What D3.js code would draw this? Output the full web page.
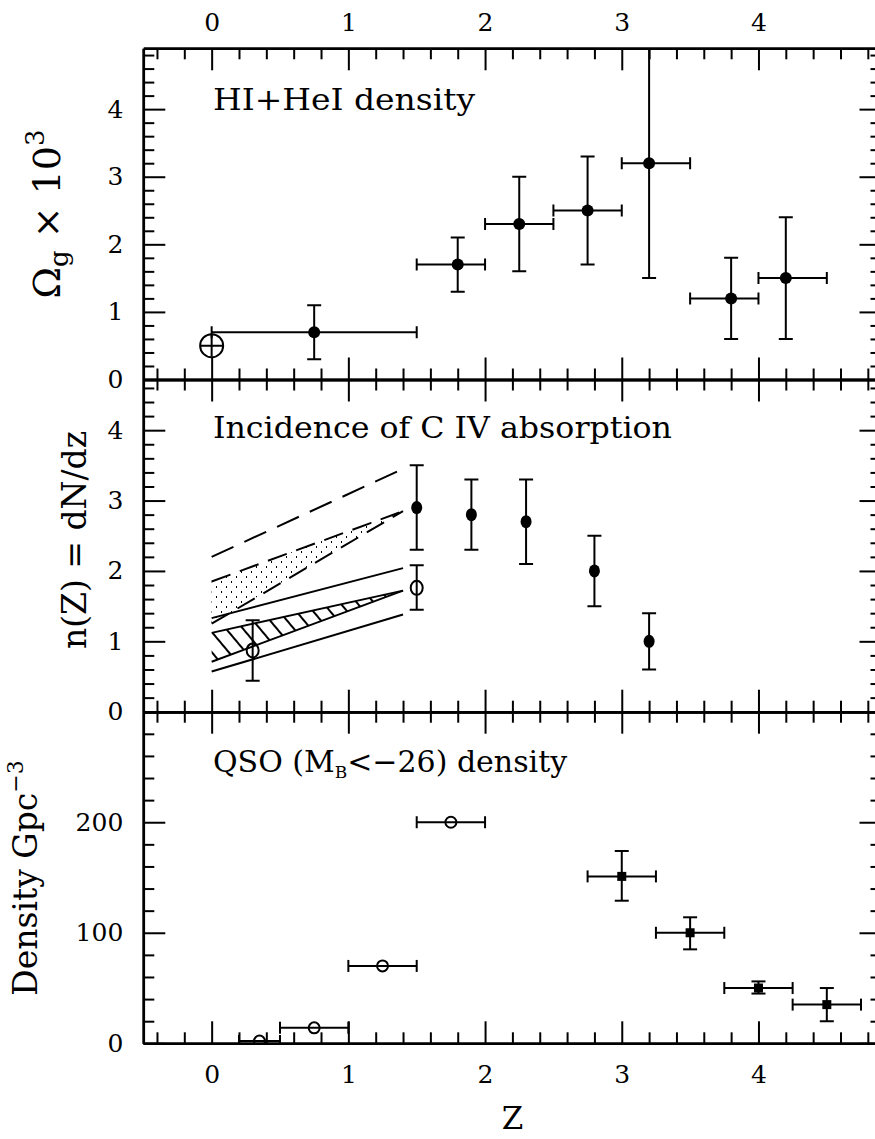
<!DOCTYPE html>
<html>
<head>
<meta charset="utf-8">
<script src="https://cdn.jsdelivr.net/npm/d3@7"></script>
<style>
  body { margin: 0; background: #fff; }
  text { font-family: "DejaVu Serif", serif; fill: #000; }
</style>
</head>
<body>
<svg class="MainSvg"></svg>
<script>
    // ---- top panel : HI+HeI density ----
    var gasZ   = [0.75, 1.8, 2.25, 2.75, 3.2, 3.8, 4.2];
    var gasVal = [0.7, 1.7, 2.3, 2.5, 3.2, 1.2, 1.5];
    var gasLo  = [0.3, 1.3, 1.6, 1.7, 1.5, 0.6, 0.6];
    var gasHi  = [1.1, 2.1, 3.0, 3.3, 4.9, 1.8, 2.4];
    var gasZlo = [0.0, 1.5, 2.0, 2.5, 3.0, 3.5, 4.0];
    var gasZhi = [1.5, 2.0, 2.5, 3.0, 3.5, 4.0, 4.5];
    var localZ = [0], localVal = [0.5], localLo = [0.34], localHi = [0.66], localZlo = [-0.08], localZhi = [0.08];

    // ---- middle panel : C IV incidence ----
    var civZ   = [1.5, 1.9, 2.3, 2.8, 3.2];
    var civVal = [2.9, 2.8, 2.7, 2.0, 1.0];
    var civLo  = [2.3, 2.3, 2.1, 1.5, 0.6];
    var civHi  = [3.5, 3.3, 3.3, 2.5, 1.4];
    var civOpenZ   = [0.3, 1.5];
    var civOpenVal = [0.87, 1.76];
    var civOpenLo  = [0.44, 1.45];
    var civOpenHi  = [1.30, 2.08];
    // model curves, given at z = 0 and z = 1.4
    var modelZ    = [0, 1.4];
    var dashTop   = [2.2, 3.45];
    var dotBandHi = [1.85, 2.85];
    var dotBandLo = [1.25, 2.85];
    var solidHi   = [1.33, 2.04];
    var solidLo   = [0.57, 1.38];
    var hatchHi   = [1.12, 1.72];
    var hatchLo   = [0.71, 1.72];

    // ---- bottom panel : QSO density ----
    var qsoOpenZ   = [0.35, 0.75, 1.25, 1.75];
    var qsoOpenVal = [2, 14, 70, 200];
    var qsoOpenZlo = [0.2, 0.5, 1.0, 1.5];
    var qsoOpenZhi = [0.5, 1.0, 1.5, 2.0];
    var qsoZ   = [3.0, 3.5, 4.0, 4.5];
    var qsoVal = [151, 100, 50, 35];
    var qsoLo  = [129, 85, 45, 20];
    var qsoHi  = [174, 114, 56, 50];
    var qsoZlo = [2.75, 3.25, 3.75, 4.25];
    var qsoZhi = [3.25, 3.75, 4.25, 4.75];

    var xMajor = [0, 1, 2, 3, 4];
    var xMinor = d3.range(-2, 25).filter(function (i) { return i % 5 != 0; }).map(function (i) { return i / 5; });

    var width = 875, height = 1139;
    var svg = d3.select(".MainSvg").attr("width", width).attr("height", height);

    var x = d3.scaleLinear().domain([-0.5, 4.9]).range([143.3, 881.5]);
    var panels = [
        { y: d3.scaleLinear().domain([0, 4.9]).range([379.5, 48.3]), major: [0, 1, 2, 3, 4], minor: d3.range(1, 25).filter(function (i) { return i % 5 != 0; }).map(function (i) { return i / 5; }) },
        { y: d3.scaleLinear().domain([0, 4.72]).range([711.7, 379.5]), major: [0, 1, 2, 3, 4], minor: d3.range(1, 24).filter(function (i) { return i % 5 != 0; }).map(function (i) { return i / 5; }) },
        { y: d3.scaleLinear().domain([0, 300]).range([1043.3, 711.7]), major: [0, 100, 200], minor: d3.range(20, 300, 20).filter(function (v) { return v % 100 != 0; }) }
    ];

    var defs = svg.append("defs");
    panels.forEach(function (p, i) {
        defs.append("clipPath").attr("id", "clip" + i)
            .append("rect")
            .attr("x", x.range()[0]).attr("y", p.y.range()[1])
            .attr("width", x.range()[1] - x.range()[0])
            .attr("height", p.y.range()[0] - p.y.range()[1]);
    });
    // hatching for the lower band
    var hatch = defs.append("pattern").attr("id", "hatch")
        .attr("patternUnits", "userSpaceOnUse")
        .attr("width", 13).attr("height", 13)
        .attr("patternTransform", "rotate(-40)");
    hatch.append("line").attr("x1", 3).attr("x2", 3).attr("y1", 0).attr("y2", 13)
        .attr("stroke", "#000").attr("stroke-width", 2);
    // sparse dots for the upper band
    var dots = defs.append("pattern").attr("id", "dots")
        .attr("patternUnits", "userSpaceOnUse")
        .attr("width", 10).attr("height", 10);
    dots.append("rect").attr("x", 1).attr("y", 1).attr("width", 1).attr("height", 2).attr("fill", "#000");
    dots.append("rect").attr("x", 6).attr("y", 6).attr("width", 1).attr("height", 2).attr("fill", "#000");

    function addAxis(g, maker, scale, major, minor, labels, pad) {
        g.append("g").call(maker(scale).tickValues(minor).tickSizeInner(-11).tickSizeOuter(0).tickFormat(""));
        g.append("g").call(maker(scale).tickValues(major).tickSizeInner(-22).tickSizeOuter(0)
            .tickPadding(pad).tickFormat(labels ? d3.format("d") : ""));
    }

    function errorBars(g, p, zs, vals, lo, hi, zlo, zhi, cap) {
        var w = 7, h = 6;
        zs.forEach(function (z, i) {
            if (lo) {
                g.append("line").attr("x1", x(z)).attr("x2", x(z)).attr("y1", p.y(lo[i])).attr("y2", p.y(hi[i]));
                if (cap) {
                    g.append("line").attr("x1", x(z) - w).attr("x2", x(z) + w).attr("y1", p.y(lo[i])).attr("y2", p.y(lo[i]));
                    g.append("line").attr("x1", x(z) - w).attr("x2", x(z) + w).attr("y1", p.y(hi[i])).attr("y2", p.y(hi[i]));
                }
            }
            if (zlo) {
                g.append("line").attr("x1", x(zlo[i])).attr("x2", x(zhi[i])).attr("y1", p.y(vals[i])).attr("y2", p.y(vals[i]));
                if (cap) {
                    g.append("line").attr("x1", x(zlo[i])).attr("x2", x(zlo[i])).attr("y1", p.y(vals[i]) - h).attr("y2", p.y(vals[i]) + h);
                    g.append("line").attr("x1", x(zhi[i])).attr("x2", x(zhi[i])).attr("y1", p.y(vals[i]) - h).attr("y2", p.y(vals[i]) + h);
                }
            }
        });
    }

    panels.forEach(function (p, i) {
        var top = svg.append("g").attr("transform", "translate(0," + p.y.range()[1] + ")");
        addAxis(top, d3.axisTop, x, xMajor, xMinor, i == 0, 17);
        var bot = svg.append("g").attr("transform", "translate(0," + p.y.range()[0] + ")");
        addAxis(bot, d3.axisBottom, x, xMajor, xMinor, i == 2, 22);
        var left = svg.append("g").attr("transform", "translate(" + x.range()[0] + ",0)");
        addAxis(left, d3.axisLeft, p.y, p.major, p.minor, true, 20);
        var right = svg.append("g").attr("transform", "translate(" + x.range()[1] + ",0)");
        addAxis(right, d3.axisRight, p.y, p.major, p.minor, false, 0);
        p.g = svg.append("g").attr("clip-path", "url(#clip" + i + ")")
            .attr("stroke", "#000").attr("stroke-width", 2).attr("fill", "none");
    });

    svg.selectAll(".domain").attr("stroke-width", 2.5);
    svg.selectAll(".tick line").attr("stroke-width", 2);
    svg.selectAll(".tick text").attr("font-family", "DejaVu Serif").attr("font-size", 25).attr("fill", "#000");

    // ---- top panel marks ----
    var p0 = panels[0];
    errorBars(p0.g, p0, gasZ, gasVal, gasLo, gasHi, gasZlo, gasZhi, true);
    p0.g.selectAll(".pt").data(gasZ).enter().append("circle")
        .attr("cx", function (d) { return x(d); })
        .attr("cy", function (d, i) { return p0.y(gasVal[i]); })
        .attr("r", 6).attr("fill", "#000").attr("stroke", "none");
    errorBars(p0.g, p0, localZ, localVal, localLo, localHi, localZlo, localZhi, false);
    p0.g.selectAll(".loc").data(localZ).enter().append("circle")
        .attr("cx", function (d) { return x(d); })
        .attr("cy", function (d, i) { return p0.y(localVal[i]); })
        .attr("r", 11.5);

    // ---- middle panel marks ----
    var p1 = panels[1];
    var band = function (lo, hi) {
        return d3.area().x(function (d) { return x(d); })
            .y0(function (d, i) { return p1.y(lo[i]); })
            .y1(function (d, i) { return p1.y(hi[i]); })(modelZ);
    };
    var line = function (v) {
        return d3.line().x(function (d) { return x(d); }).y(function (d, i) { return p1.y(v[i]); })(modelZ);
    };
    p1.g.append("path").attr("d", band(dotBandLo, dotBandHi)).attr("fill", "url(#dots)").attr("stroke", "none");
    p1.g.append("path").attr("d", band(hatchLo, hatchHi)).attr("fill", "url(#hatch)").attr("stroke", "none");
    p1.g.append("path").attr("d", line(dashTop)).attr("stroke-dasharray", "24,12");
    p1.g.append("path").attr("d", line(dotBandHi)).attr("stroke-dasharray", "20,10");
    p1.g.append("path").attr("d", line(dotBandLo)).attr("stroke-dasharray", "20,10");
    p1.g.append("path").attr("d", line(solidHi));
    p1.g.append("path").attr("d", line(solidLo));
    p1.g.append("path").attr("d", line(hatchHi));
    p1.g.append("path").attr("d", line(hatchLo));

    errorBars(p1.g, p1, civZ, civVal, civLo, civHi, null, null, true);
    p1.g.selectAll(".pt").data(civZ).enter().append("ellipse")
        .attr("cx", function (d) { return x(d); })
        .attr("cy", function (d, i) { return p1.y(civVal[i]); })
        .attr("rx", 5.5).attr("ry", 6.5).attr("fill", "#000").attr("stroke", "none");
    errorBars(p1.g, p1, civOpenZ, civOpenVal, civOpenLo, civOpenHi, null, null, true);
    p1.g.selectAll(".op").data(civOpenZ).enter().append("ellipse")
        .attr("cx", function (d) { return x(d); })
        .attr("cy", function (d, i) { return p1.y(civOpenVal[i]); })
        .attr("rx", 6).attr("ry", 7);

    // ---- bottom panel marks ----
    var p2 = panels[2];
    errorBars(p2.g, p2, qsoOpenZ, qsoOpenVal, null, null, qsoOpenZlo, qsoOpenZhi, true);
    p2.g.selectAll(".op").data(qsoOpenZ).enter().append("circle")
        .attr("cx", function (d) { return x(d); })
        .attr("cy", function (d, i) { return p2.y(qsoOpenVal[i]); })
        .attr("r", 5.5);
    errorBars(p2.g, p2, qsoZ, qsoVal, qsoLo, qsoHi, qsoZlo, qsoZhi, true);
    p2.g.selectAll(".sq").data(qsoZ).enter().append("rect")
        .attr("x", function (d) { return x(d) - 4.5; })
        .attr("y", function (d, i) { return p2.y(qsoVal[i]) - 4.5; })
        .attr("width", 9).attr("height", 9).attr("fill", "#000").attr("stroke", "none");

    // ---- texts ----
    svg.append("text").attr("x", 213).attr("y", 110).attr("font-size", 30)
        .attr("textLength", 262).attr("lengthAdjust", "spacingAndGlyphs").text("HI+HeI density");
    svg.append("text").attr("x", 213).attr("y", 438).attr("font-size", 30)
        .attr("textLength", 459).attr("lengthAdjust", "spacingAndGlyphs").text("Incidence of C IV absorption");
    var q = svg.append("text").attr("x", 213).attr("y", 772).attr("font-size", 30);
    q.append("tspan").text("QSO (M");
    q.append("tspan").attr("font-size", 17).attr("dy", 6).text("B");
    q.append("tspan").attr("dy", -6).text("<\u221226) density");

    var t1 = svg.append("text").attr("transform", "translate(60,214) rotate(-90)")
        .attr("text-anchor", "middle").attr("font-size", 38);
    t1.append("tspan").text("\u03A9");
    t1.append("tspan").attr("font-size", 26).attr("dy", 8).text("g");
    t1.append("tspan").attr("dy", -8).attr("dx", 12).text("\u00D7");
    t1.append("tspan").attr("dx", 12).text("10");
    t1.append("tspan").attr("font-size", 26).attr("dy", -16).text("3");

    svg.append("text").attr("transform", "translate(86,540) rotate(-90)")
        .attr("text-anchor", "middle").attr("font-size", 33).text("n(Z) = dN/dz");

    var t3 = svg.append("text").attr("transform", "translate(37,878) rotate(-90)")
        .attr("text-anchor", "middle").attr("font-size", 33);
    t3.append("tspan").text("Density Gpc");
    t3.append("tspan").attr("font-size", 22).attr("dy", -14).text("\u22123");

    svg.append("text").attr("x", x(2.2)).attr("y", 1129).attr("text-anchor", "middle")
        .attr("font-size", 31).text("Z");
</script>
</body>
</html>
